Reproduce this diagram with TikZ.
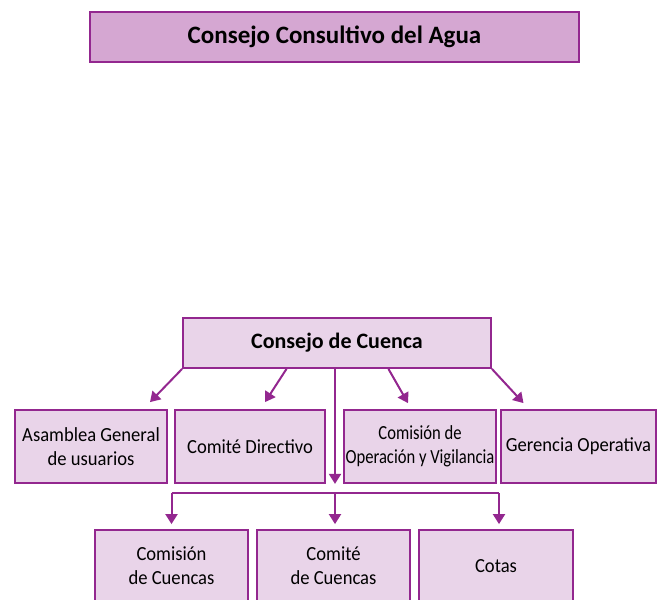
\documentclass[tikz,border=0pt]{standalone}
\usepackage{fontspec}
\setmainfont[FakeStretch=0.93]{Carlito}
\newfontfamily\negrita[FakeStretch=1.0]{Carlito}
\newfontfamily\estrecha[FakeStretch=0.83]{Carlito}
\usetikzlibrary{arrows.meta}
\usetikzlibrary{calc}
\definecolor{morado}{HTML}{93278F}
\definecolor{lilafuerte}{HTML}{D5A7D2}
\definecolor{lila}{HTML}{E9D4E9}
\tikzset{
  caja/.style={draw=morado, line width=1.8pt, fill=lila, align=center, inner sep=0pt,
    font=\fontsize{20}{24}\selectfont},
  titulo/.style={caja, font=\negrita\fontsize{22}{24}\selectfont\bfseries},
  flecha/.style={draw=morado, line width=2pt, -{Triangle[width=12pt,length=10pt]}}
}
\begin{document}
\begin{tikzpicture}[x=1pt,y=-1pt]
  \useasboundingbox (0,0) rectangle (660,599);
  \clip (0,0) rectangle (660,599);
  % draw top boxes
  \node[titulo, fill=lilafuerte, minimum width=489pt, minimum height=50pt,
    font=\negrita\fontsize{25}{24}\selectfont\bfseries] (agua) at (334.5,37) {Consejo Consultivo del Agua};
  \node[titulo, minimum width=308pt, minimum height=50pt] (cuenca) at (337,343) {Consejo de Cuenca};
  % draw middle row
  \node[caja, minimum width=152pt, minimum height=73pt] (asamblea) at (91,446.5) {Asamblea General\\de usuarios};
  \node[caja, minimum width=150pt, minimum height=73pt] (directivo) at (250,446.5) {Comité Directivo};
  \node[caja, minimum width=152pt, minimum height=73pt,
    font=\estrecha\fontsize{20}{24}\selectfont] (vigilancia) at (420,446.5) {Comisión de\\Operación y Vigilancia};
  \node[caja, minimum width=155pt, minimum height=73pt] (gerencia) at (578.5,446.5) {Gerencia Operativa};
  % draw bottom row
  \node[caja, minimum width=153pt, minimum height=72pt] (comision) at (171.5,566) {Comisión\\de Cuencas};
  \node[caja, minimum width=153pt, minimum height=72pt] (comite) at (333.5,566) {Comité\\de Cuencas};
  \node[caja, minimum width=154pt, minimum height=72pt] (cotas) at (496,566) {Cotas};
  % arrows from Consejo de Cuenca
  \draw[flecha] (cuenca.south west) -- ($(asamblea.north)+(59,-7)$);
  \draw[flecha] ($(cuenca.south west)!0.337!(cuenca.south east)$) -- ($(directivo.north)+(15,-7)$);
  \draw[flecha] ($(cuenca.south west)!0.666!(cuenca.south east)$) -- ($(vigilancia.north)+(-12,-6)$);
  \draw[flecha] (cuenca.south east) -- ($(gerencia.north)+(-55,-6)$);
  \draw[flecha] ($(cuenca.south)+(-2,0)$) -- ($(cuenca.south)+(-2,115)$);
  % branch to the bottom row
  \coordinate (ramaizq) at ($(comision.north)+(0,-36)$);
  \coordinate (ramader) at ($(cotas.north)+(3,-36)$);
  \draw[morado, line width=2pt] (ramaizq) -- (ramader);
  \draw[flecha] (ramaizq) -- ($(comision.north)+(0,-5)$);
  \draw[flecha] ($(comite.north)+(1.5,-36)$) -- ($(comite.north)+(1.5,-5)$);
  \draw[flecha] (ramader) -- ($(cotas.north)+(3,-5)$);
\end{tikzpicture}
\end{document}
